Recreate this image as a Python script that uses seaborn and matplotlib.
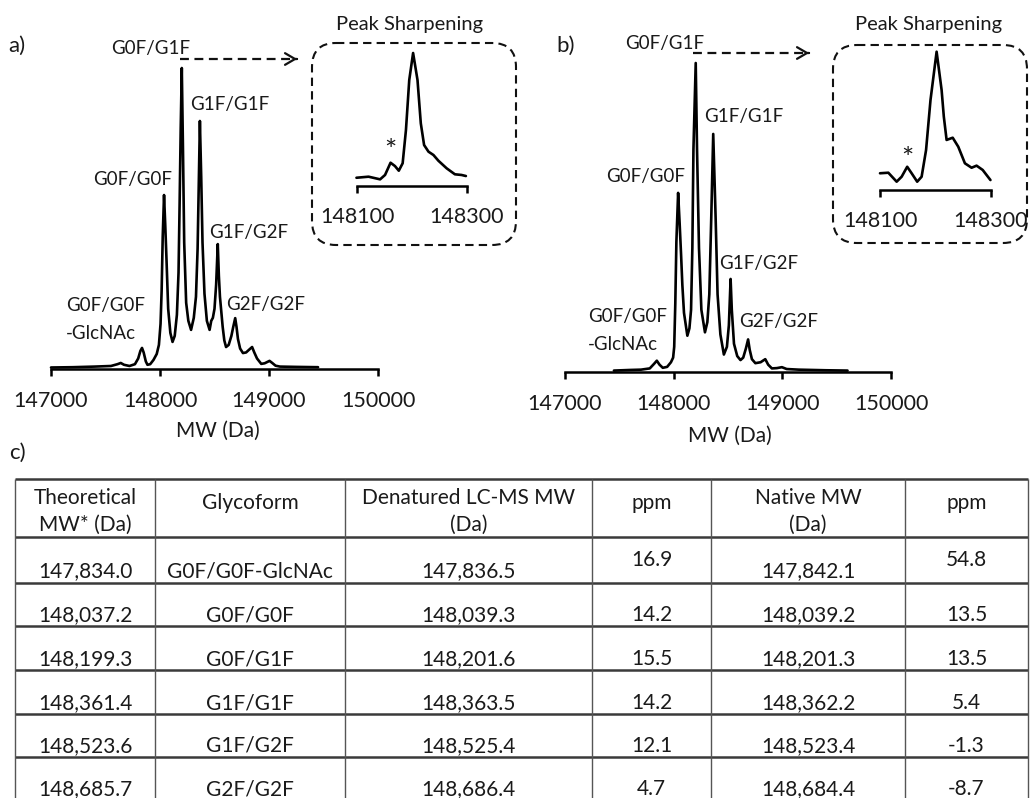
import matplotlib
matplotlib.use("Agg")
import matplotlib.pyplot as plt
import pandas as pd
import seaborn as sns
from matplotlib.patches import FancyBboxPatch

# deconvoluted spectra (MW in Da, relative intensity)
a_mw = [147000, 147200, 147400, 147550, 147610, 147640, 147670, 147720, 147770, 147800,
        147820, 147835, 147850, 147870, 147885, 147910, 147940, 147970, 147990, 148005,
        148015, 148025, 148037, 148048, 148060, 148075, 148095, 148115, 148135, 148155,
        148170, 148180, 148190, 148200, 148210, 148222, 148240, 148260, 148285, 148310,
        148330, 148345, 148355, 148366, 148378, 148390, 148408, 148430, 148455, 148470,
        148485, 148500, 148515, 148530, 148540, 148550, 148560, 148575, 148590, 148606,
        148630, 148655, 148672, 148690, 148702, 148715, 148735, 148761, 148790, 148820,
        148845, 148865, 148890, 148929, 148960, 149005, 149030, 149060, 149100, 149250,
        149450]
a_int = [0.005, 0.006, 0.008, 0.010, 0.016, 0.020, 0.014, 0.010, 0.016, 0.035,
         0.060, 0.070, 0.055, 0.025, 0.014, 0.016, 0.030, 0.050, 0.080, 0.150,
         0.260, 0.440, 0.578, 0.480, 0.360, 0.200, 0.120, 0.090, 0.110, 0.180,
         0.320, 0.550, 0.800, 1.000, 0.750, 0.420, 0.220, 0.160, 0.130, 0.170,
         0.240, 0.400, 0.600, 0.824, 0.640, 0.420, 0.250, 0.160, 0.130, 0.160,
         0.170, 0.200, 0.280, 0.415, 0.310, 0.240, 0.200, 0.140, 0.095, 0.073,
         0.080, 0.110, 0.140, 0.169, 0.140, 0.100, 0.068, 0.053, 0.055, 0.065,
         0.073, 0.055, 0.035, 0.017, 0.019, 0.027, 0.020, 0.011, 0.008, 0.007,
         0.006]

b_mw = [147450, 147600, 147700, 147780, 147820, 147845, 147870, 147900, 147940, 147975,
        147995, 148005, 148015, 148025, 148041, 148055, 148068, 148080, 148095, 148126,
        148145, 148160, 148172, 148182, 148203, 148215, 148233, 148255, 148288, 148310,
        148328, 148346, 148364, 148386, 148404, 148430, 148462, 148490, 148508, 148524,
        148535, 148555, 148585, 148615, 148640, 148665, 148685, 148700, 148720, 148752,
        148800, 148843, 148870, 148904, 148950, 148996, 149040, 149150, 149400, 149600]
b_int = [0.003, 0.005, 0.006, 0.010, 0.025, 0.035, 0.022, 0.012, 0.015, 0.030,
         0.045, 0.080, 0.220, 0.420, 0.579, 0.480, 0.380, 0.280, 0.190, 0.116,
         0.140, 0.200, 0.400, 0.720, 1.000, 0.720, 0.400, 0.200, 0.127, 0.160,
         0.250, 0.500, 0.770, 0.500, 0.250, 0.120, 0.055, 0.080, 0.150, 0.300,
         0.200, 0.090, 0.050, 0.037, 0.045, 0.075, 0.104, 0.070, 0.040, 0.027,
         0.030, 0.040, 0.022, 0.010, 0.011, 0.014, 0.008, 0.006, 0.004, 0.003]

# zoomed G0F/G1F region (insets)
ia_mw = [148099, 148121, 148142, 148151, 148161, 148169, 148176, 148183, 148189, 148195,
         148202, 148210, 148216, 148222, 148230, 148239, 148248, 148263, 148278, 148290,
         148298]
ia_int = [0.062, 0.070, 0.050, 0.083, 0.175, 0.150, 0.115, 0.171, 0.421, 0.797,
          1.000, 0.797, 0.471, 0.308, 0.258, 0.233, 0.190, 0.133, 0.088, 0.083,
          0.075]
ib_mw = [148100, 148115, 148130, 148139, 148149, 148157, 148167, 148175, 148183, 148191,
         148202, 148211, 148215, 148220, 148231, 148241, 148253, 148265, 148274, 148285,
         148299]
ib_int = [0.121, 0.125, 0.060, 0.096, 0.168, 0.121, 0.060, 0.096, 0.289, 0.651,
          1.000, 0.723, 0.530, 0.362, 0.378, 0.313, 0.193, 0.161, 0.176, 0.145,
          0.072]

main_ticks = [147000, 148000, 149000, 150000]
inset_ticks = [148100, 148300]
peak_names = ["G0F/G0F\n-GlcNAc", "G0F/G0F", "G0F/G1F", "G1F/G1F", "G1F/G2F", "G2F/G2F"]

# table c)
headers = ["Theoretical\nMW* (Da)", "Glycoform", "Denatured LC-MS MW\n(Da)", "ppm", "Native MW\n(Da)", "ppm"]
theo_mw = ["147,834.0", "148,037.2", "148,199.3", "148,361.4", "148,523.6", "148,685.7"]
glycoform = ["G0F/G0F-GlcNAc", "G0F/G0F", "G0F/G1F", "G1F/G1F", "G1F/G2F", "G2F/G2F"]
denat_mw = ["147,836.5", "148,039.3", "148,201.6", "148,363.5", "148,525.4", "148,686.4"]
denat_ppm = ["16.9", "14.2", "15.5", "14.2", "12.1", "4.7"]
native_mw = ["147,842.1", "148,039.2", "148,201.3", "148,362.2", "148,523.4", "148,684.4"]
native_ppm = ["54.8", "13.5", "13.5", "5.4", "-1.3", "-8.7"]

sns.set_theme(style="white")
plt.rcParams["font.family"] = ["Lato", "DejaVu Sans"]
TXT = "#1a1a1a"

W, H = 1031, 798
fig = plt.figure(figsize=(W / 100, H / 100), dpi=100)


def px_axes(x0, x1, ytop, ybot):
    return fig.add_axes([x0 / W, 1 - ybot / H, (x1 - x0) / W, (ybot - ytop) / H])


def spectrum(ax, mw, inten, ticks, pad):
    df = pd.DataFrame({"MW": mw, "Intensity": inten})
    sns.lineplot(data=df, x="MW", y="Intensity", ax=ax, color="black", lw=1.9,
                 estimator=None, sort=False)
    for ln in ax.lines:
        ln.set_clip_on(False)
        ln.set_solid_joinstyle("round")
    ax.set_xlim(ticks[0], ticks[-1])
    ax.set_ylim(0, 1)
    ax.set_facecolor("none")
    for s in ["top", "right", "left"]:
        ax.spines[s].set_visible(False)
    ax.spines["bottom"].set_linewidth(1.8)
    ax.spines["bottom"].set_color("black")
    ax.set_xticks(ticks)
    ax.set_xticklabels([str(t) for t in ticks])
    ax.set_yticks([])
    ax.tick_params(axis="x", bottom=True, direction="out", length=5, width=1.8,
                   color="black", labelsize=15.5, labelcolor=TXT, pad=pad)
    ax.set_xlabel("")
    ax.set_ylabel("")


spectrum(px_axes(51, 378, 68, 369), a_mw, a_int, main_ticks, 11)
spectrum(px_axes(565, 891, 63, 371.5), b_mw, b_int, main_ticks, 11)
spectrum(px_axes(357, 467, 53, 186), ia_mw, ia_int, inset_ticks, 10)
spectrum(px_axes(880, 991, 51.7, 190), ib_mw, ib_int, inset_ticks, 10)

# overlay in pixel units for labels, boxes and the table
ov = fig.add_axes([0, 0, 1, 1])
ov.set_xlim(0, W)
ov.set_ylim(H, 0)
ov.axis("off")
ov.patch.set_alpha(0)

for lab, x, y in [("a)", 8, 44), ("b)", 556, 44), ("c)", 9, 451)]:
    ov.text(x, y, lab, fontsize=16, color=TXT, ha="left", va="center_baseline")

for x, y in [(218, 429), (730, 434)]:
    ov.text(x, y, "MW (Da)", fontsize=15, color=TXT, ha="center", va="center_baseline")

label_pos = {
    "a": [(66, 304), (132.5, 178), (150.5, 47), (230, 103), (248.7, 231), (265.5, 303)],
    "b": [(588, 315), (646, 175), (665, 42), (744, 115), (759, 262), (779, 320)],
}
for key in label_pos:
    for name, (x, y) in zip(peak_names, label_pos[key]):
        if "\n" in name:
            l1, l2 = name.split("\n")
            ov.text(x, y, l1, fontsize=13.5, color=TXT, ha="left", va="center_baseline")
            ov.text(x, y + 28, l2, fontsize=13.5, color=TXT, ha="left", va="center_baseline")
        else:
            ov.text(x, y, name, fontsize=13.5, color=TXT, ha="center", va="center_baseline")

# dashed zoom boxes and arrows
for (x0, x1, y0, y1), (tx, ty), (ax0, ax1, ay), (sx, sy) in [
        ((312, 516, 43, 245), (410, 23), (180, 300, 59), (390, 152)),
        ((833, 1027, 45, 243), (929, 23), (693, 812, 53), (907, 160))]:
    box = FancyBboxPatch((x0, y0), x1 - x0, y1 - y0,
                         boxstyle="round,pad=0,rounding_size=24",
                         fill=False, ec="#111111", lw=1.5, ls=(0, (4, 2.5)))
    ov.add_patch(box)
    ov.text(tx, ty, "Peak Sharpening", fontsize=14.5, color=TXT, ha="center", va="center_baseline")
    ov.plot([ax0, ax1 - 4], [ay, ay], color="#111111", lw=1.6, ls=(0, (4, 2.5)))
    ov.annotate("", xy=(ax1, ay), xytext=(ax1 - 6, ay),
                arrowprops=dict(arrowstyle="->,head_length=0.6,head_width=0.35",
                                color="#111111", lw=1.6))
    ov.text(sx, sy, "*", fontsize=21, color=TXT, ha="center", va="center")

# table
col_x = [15, 155, 345, 592, 711, 905, 1028]
row_y = [479, 537, 583, 626, 670, 714, 757]
ov.hlines(row_y, col_x[0], col_x[-1], color="#3a3a3a", lw=1.8)
ov.vlines(col_x, row_y[0], H, color="#555555", lw=1.0)

FS = 15
for i, h in enumerate(headers):
    cx = (col_x[i] + col_x[i + 1]) / 2
    if "\n" in h:
        l1, l2 = h.split("\n")
        ov.text(cx, 496, l1, fontsize=FS, color=TXT, ha="center", va="center_baseline")
        ov.text(cx, 523, l2, fontsize=FS, color=TXT, ha="center", va="center_baseline")
    else:
        ov.text(cx, 501, h, fontsize=FS, color=TXT, ha="center", va="center_baseline")

columns = [theo_mw, glycoform, denat_mw, denat_ppm, native_mw, native_ppm]
for j, col in enumerate(columns):
    cx = (col_x[j] + col_x[j + 1]) / 2
    for r, val in enumerate(col):
        y = row_y[r + 2] - 13 if r + 2 < len(row_y) else 787
        if r == 0:
            y = 558 if j in (3, 5) else 569
        ov.text(cx, y, val, fontsize=FS, color=TXT, ha="center", va="center_baseline")

fig.savefig("out.png", dpi=100)
